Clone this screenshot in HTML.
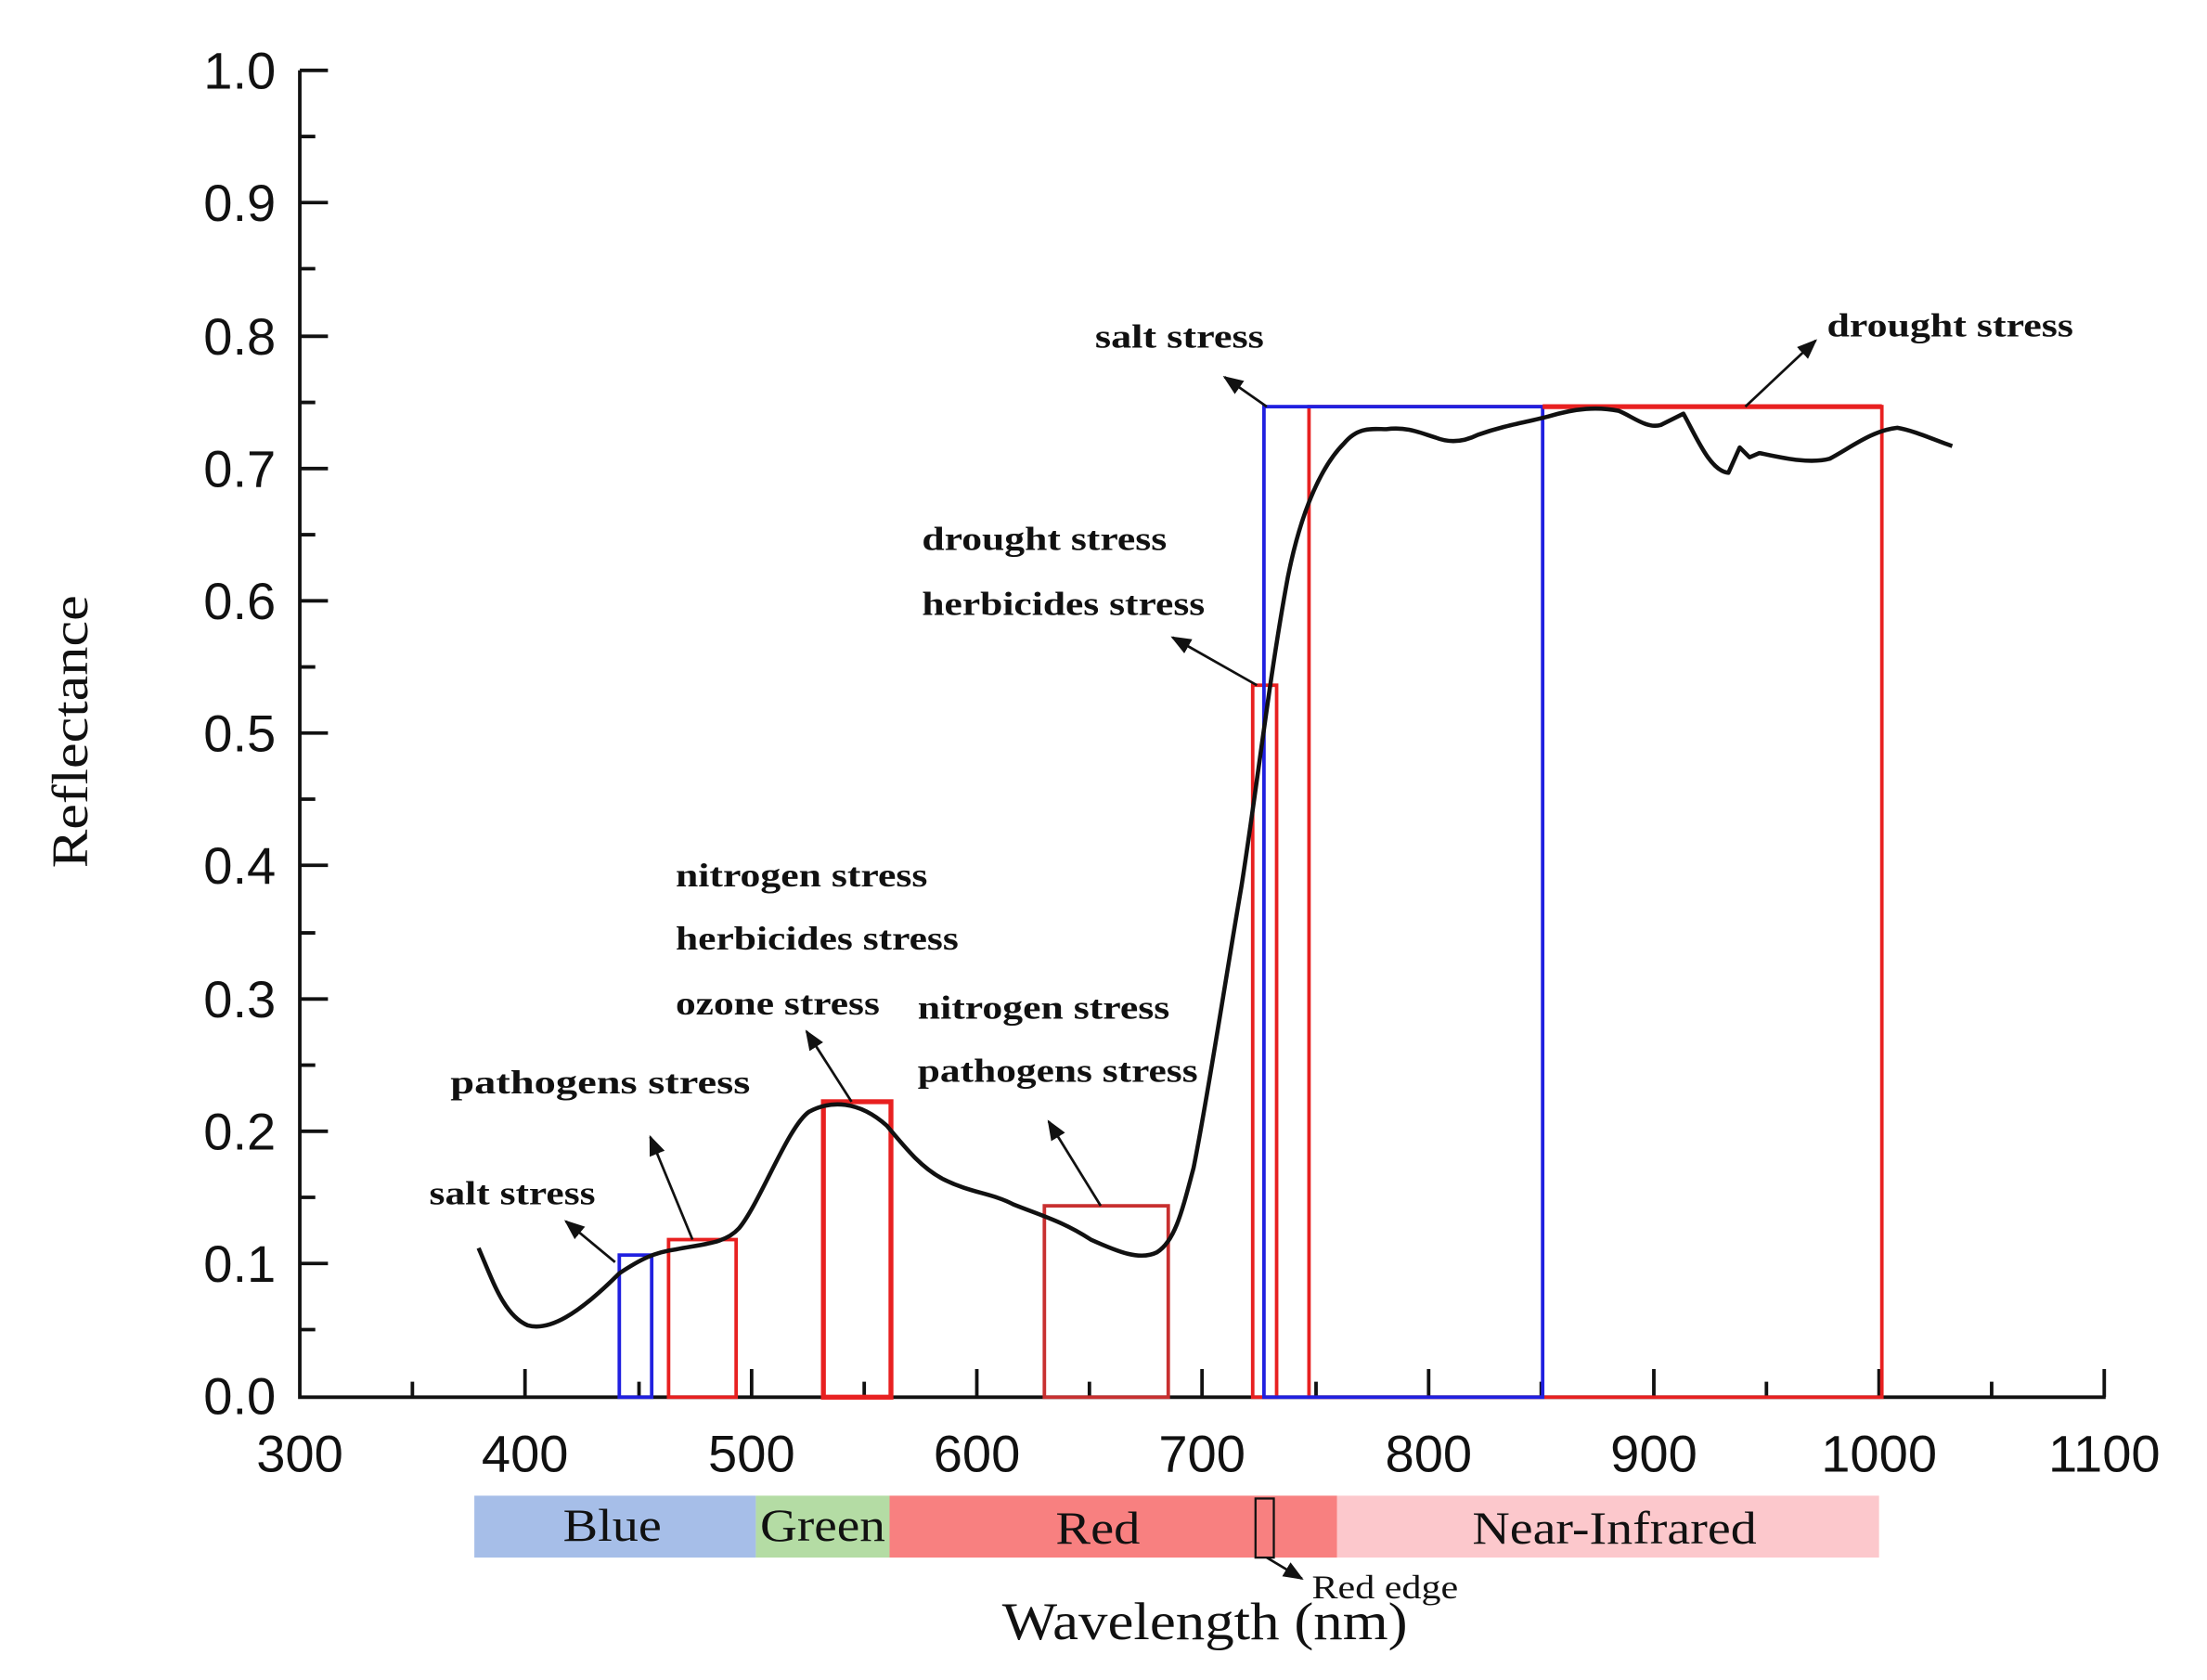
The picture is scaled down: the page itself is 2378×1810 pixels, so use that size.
<!DOCTYPE html>
<html><head><meta charset="utf-8"><style>
html,body{margin:0;padding:0;background:#fff;}
svg{display:block;}
.t{font-family:"Liberation Sans",Arial,sans-serif;font-size:37px;fill:#111;}
.a{font-family:"Liberation Serif","Times New Roman",serif;font-weight:bold;font-size:24px;fill:#111;}
.b{font-family:"Liberation Serif","Times New Roman",serif;font-size:33px;fill:#111;}
</style></head><body>
<svg width="2378" height="1810" viewBox="0 0 1568 1194" preserveAspectRatio="none" xmlns="http://www.w3.org/2000/svg">
<defs><marker id="ar" viewBox="0 0 10 10" refX="9" refY="5" markerWidth="8" markerHeight="8" orient="auto-start-reverse"><path d="M0,1 L10,5 L0,9 z" fill="#111"/></marker></defs>
<rect width="1568" height="1194" fill="#fff"/>
<g stroke="#111" stroke-width="2.5" fill="none">
<path d="M213,50 V993 H1496"/>
<path d="M213,50 h20 M213,144 h20 M213,239 h20 M213,333 h20 M213,427 h20 M213,521 h20 M213,615 h20 M213,710 h20 M213,804 h20 M213,898 h20"/>
<path d="M213,97 h11 M213,191 h11 M213,286 h11 M213,380 h11 M213,474 h11 M213,568 h11 M213,663 h11 M213,757 h11 M213,851 h11 M213,945 h11"/>
<path d="M373,993 v-20 M534,993 v-20 M694,993 v-20 M854,993 v-20 M1015,993 v-20 M1175,993 v-20 M1335,993 v-20 M1495,993 v-20"/>
<path d="M293,993 v-11 M454,993 v-11 M614,993 v-11 M774,993 v-11 M935,993 v-11 M1095,993 v-11 M1255,993 v-11 M1415,993 v-11"/>
</g>
<g class="t" text-anchor="end">
<text x="196" y="63">1.0</text><text x="196" y="157">0.9</text><text x="196" y="252">0.8</text><text x="196" y="346">0.7</text><text x="196" y="440">0.6</text><text x="196" y="534">0.5</text><text x="196" y="628">0.4</text><text x="196" y="723">0.3</text><text x="196" y="817">0.2</text><text x="196" y="911">0.1</text><text x="196" y="1005">0.0</text>
</g>
<g class="t" text-anchor="middle">
<text x="213" y="1046">300</text><text x="373" y="1046">400</text><text x="534" y="1046">500</text><text x="694" y="1046">600</text><text x="854" y="1046">700</text><text x="1015" y="1046">800</text><text x="1175" y="1046">900</text><text x="1335" y="1046">1000</text><text x="1495" y="1046">1100</text>
</g>
<text class="b" transform="translate(62,520) rotate(-90)" text-anchor="middle" style="font-size:36px" textLength="194" lengthAdjust="spacingAndGlyphs">Reflectance</text>
<g fill="none" stroke-width="2.5">
<rect x="440" y="892" width="23" height="101" stroke="#2020e0"/>
<rect x="475" y="881" width="48" height="112" stroke="#e82020"/>
<rect x="585" y="783" width="48" height="210" stroke="#e82020" stroke-width="3.5"/>
<rect x="742" y="857" width="88" height="136" stroke="#c83030"/>
<rect x="890" y="487" width="17" height="506" stroke="#e82020"/>
<rect x="930" y="289" width="407" height="704" stroke="#e82020"/>
<rect x="898" y="289" width="198" height="704" stroke="#2020e0"/>
<path d="M1096,289 H1337" stroke="#e82020" stroke-width="3.5"/>
</g>
<path fill="none" stroke="#111" stroke-width="3" stroke-linejoin="round" d="M340,887 C350,910 358,935 375,942 C390,946 410,935 440,905 C455,895 465,890 480,888 C500,884 515,884 525,873 C540,855 560,800 575,790 C590,782 610,782 630,800 C645,818 655,830 670,838 C690,848 705,848 720,856 C740,864 755,868 775,881 C795,890 810,896 822,890 C835,882 840,860 848,830 C858,780 870,700 882,630 C893,560 902,480 915,410 C925,360 940,330 955,315 C965,303 975,305 985,305 C1000,303 1010,308 1020,311 C1030,315 1040,314 1050,309 C1070,302 1085,300 1100,296 C1120,290 1135,289 1150,292 C1160,296 1170,305 1180,302 L1196,294 C1205,310 1215,335 1228,336 L1236,318 L1243,325 L1250,322 C1265,325 1285,330 1300,326 C1315,318 1330,306 1348,304 C1360,306 1375,313 1387,317"/>
<g stroke="#111" stroke-width="1.8" fill="none" marker-end="url(#ar)">
<path d="M437,897 L402,868"/>
<path d="M492,881 L462,808"/>
<path d="M605,783 L573,733"/>
<path d="M782,857 L745,797"/>
<path d="M893,487 L833,453"/>
<path d="M900,289 L870,268"/>
<path d="M1240,289 L1290,242"/>
<path d="M900,1107 L925,1122"/>
</g>
<g class="a" lengthAdjust="spacingAndGlyphs">
<text x="305" y="856" textLength="118" lengthAdjust="spacingAndGlyphs">salt stress</text>
<text x="320" y="777" textLength="213" lengthAdjust="spacingAndGlyphs">pathogens stress</text>
<text x="480" y="630" textLength="179" lengthAdjust="spacingAndGlyphs">nitrogen stress</text>
<text x="480" y="675" textLength="201" lengthAdjust="spacingAndGlyphs">herbicides stress</text>
<text x="480" y="721" textLength="145" lengthAdjust="spacingAndGlyphs">ozone stress</text>
<text x="652" y="724" textLength="179" lengthAdjust="spacingAndGlyphs">nitrogen stress</text>
<text x="652" y="769" textLength="199" lengthAdjust="spacingAndGlyphs">pathogens stress</text>
<text x="655" y="391" textLength="174" lengthAdjust="spacingAndGlyphs">drought stress</text>
<text x="655" y="437" textLength="201" lengthAdjust="spacingAndGlyphs">herbicides stress</text>
<text x="778" y="247" textLength="120" lengthAdjust="spacingAndGlyphs">salt stress</text>
<text x="1298" y="239" textLength="175" lengthAdjust="spacingAndGlyphs">drought stress</text>
</g>
<rect x="337" y="1063" width="200" height="44" fill="#a6bee8"/>
<rect x="537" y="1063" width="95" height="44" fill="#b4dca4"/>
<rect x="632" y="1063" width="318" height="44" fill="#f88080"/>
<rect x="950" y="1063" width="385" height="44" fill="#fcc8cc"/>
<rect x="892" y="1065" width="13" height="42" fill="none" stroke="#111" stroke-width="1.5"/>
<g class="b">
<text x="400" y="1095" textLength="70" lengthAdjust="spacingAndGlyphs">Blue</text>
<text x="540" y="1095" textLength="89" lengthAdjust="spacingAndGlyphs">Green</text>
<text x="750" y="1097" textLength="60" lengthAdjust="spacingAndGlyphs">Red</text>
<text x="1046" y="1097" textLength="202" lengthAdjust="spacingAndGlyphs">Near-Infrared</text>
<text x="712" y="1165" style="font-size:38px" textLength="288" lengthAdjust="spacingAndGlyphs">Wavelength (nm)</text>
</g>
<text class="b" x="932" y="1136" style="font-size:24px" textLength="104" lengthAdjust="spacingAndGlyphs">Red edge</text>
</svg>
</body></html>
